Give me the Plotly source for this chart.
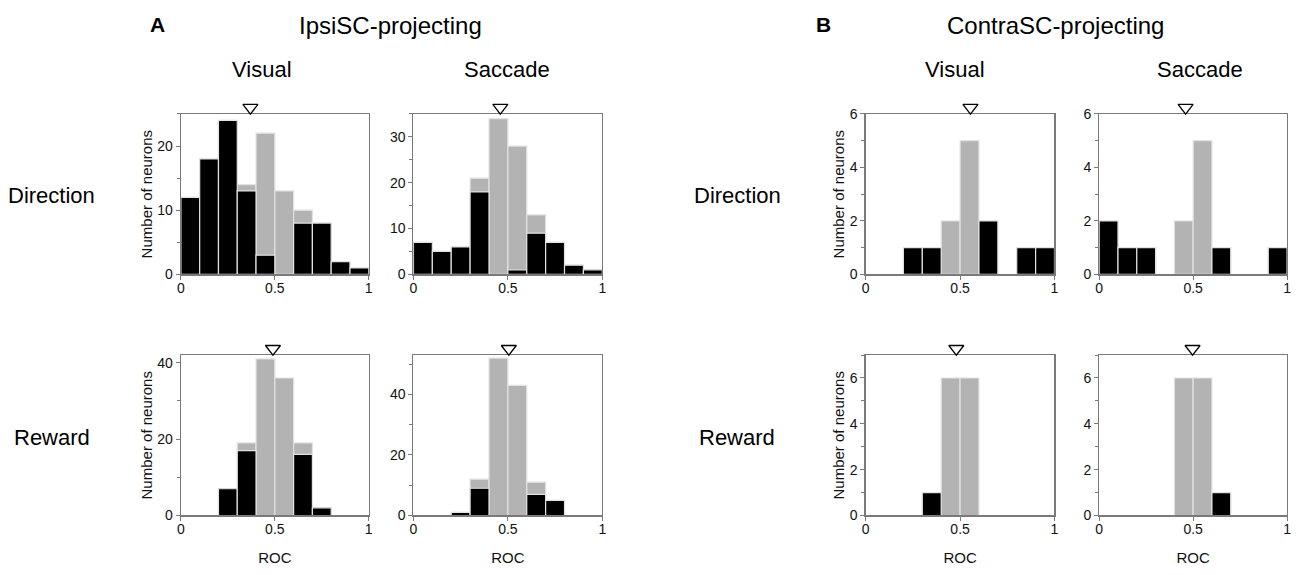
import plotly.graph_objects as go

# ---------------- data ----------------
bin_centers = [0.05, 0.15, 0.25, 0.35, 0.45, 0.55, 0.65, 0.75, 0.85, 0.95]

ipsi_vis_dir_total = [12, 18, 24, 14, 22, 13, 10, 8, 2, 1]
ipsi_vis_dir_sig = [12, 18, 24, 13, 3, 0, 8, 8, 2, 1]
ipsi_sac_dir_total = [7, 5, 6, 21, 34, 28, 13, 7, 2, 1]
ipsi_sac_dir_sig = [7, 5, 6, 18, 0, 1, 9, 7, 2, 1]
ipsi_vis_rew_total = [0, 0, 7, 19, 41, 36, 19, 2, 0, 0]
ipsi_vis_rew_sig = [0, 0, 7, 17, 0, 0, 16, 2, 0, 0]
ipsi_sac_rew_total = [0, 0, 1, 12, 52, 43, 11, 5, 0, 0]
ipsi_sac_rew_sig = [0, 0, 1, 9, 0, 0, 7, 5, 0, 0]

contra_vis_dir_total = [0, 0, 1, 1, 2, 5, 2, 0, 1, 1]
contra_vis_dir_sig = [0, 0, 1, 1, 0, 0, 2, 0, 1, 1]
contra_sac_dir_total = [2, 1, 1, 0, 2, 5, 1, 0, 0, 1]
contra_sac_dir_sig = [2, 1, 1, 0, 0, 0, 1, 0, 0, 1]
contra_vis_rew_total = [0, 0, 0, 1, 6, 6, 0, 0, 0, 0]
contra_vis_rew_sig = [0, 0, 0, 1, 0, 0, 0, 0, 0, 0]
contra_sac_rew_total = [0, 0, 0, 0, 6, 6, 1, 0, 0, 0]
contra_sac_rew_sig = [0, 0, 0, 0, 0, 0, 1, 0, 0, 0]

# mean ROC (triangles)
panel_means = [0.37, 0.46, 0.49, 0.505, 0.555, 0.46, 0.48, 0.497]
# y-axis maxima and major tick steps
y_max = [25, 35, 42, 53, 6, 6, 7, 7]
y_dtick = [10, 10, 20, 20, 2, 2, 2, 2]

x_tickvals = [0, 0.5, 1]
x_ticktext = ["0", "0.5", "1"]

# ---------------- layout helpers ----------------
W, H = 1300, 575

def px_x(p):
    return p / W

def px_y(p):
    return 1 - p / H

# panel boxes in pixels
row1 = (109, 274)
row2 = (357, 522)
colA1 = (178, 367)
colA2 = (412, 602)
colB1 = (867, 1057)
colB2 = (1102, 1291)

panels = [
    (ipsi_vis_dir_total, ipsi_vis_dir_sig, colA1, row1, True, False),
    (ipsi_sac_dir_total, ipsi_sac_dir_sig, colA2, row1, False, False),
    (ipsi_vis_rew_total, ipsi_vis_rew_sig, colA1, row2, True, True),
    (ipsi_sac_rew_total, ipsi_sac_rew_sig, colA2, row2, False, True),
    (contra_vis_dir_total, contra_vis_dir_sig, colB1, row1, True, False),
    (contra_sac_dir_total, contra_sac_dir_sig, colB2, row1, False, False),
    (contra_vis_rew_total, contra_vis_rew_sig, colB1, row2, True, True),
    (contra_sac_rew_total, contra_sac_rew_sig, colB2, row2, False, True),
]

FONT = "Liberation Sans, Arial, sans-serif"
FRAME = "#7a7a7a"
GRAY = "#b3b3b3"
EDGE = "#e2e2e2"
EXTRA = 16  # px of headroom on the marker axis

def nz(v):
    return [x if x != 0 else None for x in v]

fig = go.Figure()
layout_axes = {}

for i, (tot, sig, (xl, xr), (yt, yb), ytitle, xtitle) in enumerate(panels):
    k = i + 1
    km = k + 8
    xa = "x" if k == 1 else f"x{k}"
    ya = "y" if k == 1 else f"y{k}"
    yam = f"y{km}"
    xkey = "xaxis" if k == 1 else f"xaxis{k}"
    ykey = "yaxis" if k == 1 else f"yaxis{k}"
    ymkey = f"yaxis{km}"

    fig.add_trace(go.Bar(
        x=bin_centers, y=nz(tot), width=0.1,
        marker=dict(color=GRAY, line=dict(color=EDGE, width=1.2)),
        xaxis=xa, yaxis=ya, showlegend=False, hoverinfo="skip"))
    fig.add_trace(go.Bar(
        x=bin_centers, y=nz(sig), width=0.1,
        marker=dict(color="#000000", line=dict(color=EDGE, width=1.2)),
        xaxis=xa, yaxis=ya, showlegend=False, hoverinfo="skip"))

    h = yb - yt
    fig.add_trace(go.Scatter(
        x=[panel_means[i]], y=[y_max[i] * (1 + 6.5 / h)],
        mode="markers",
        marker=dict(symbol="triangle-down-open", size=13, color="black",
                    line=dict(color="black", width=1.3)),
        cliponaxis=False, xaxis=xa, yaxis=yam, showlegend=False, hoverinfo="skip"))

    layout_axes[xkey] = dict(
        domain=[px_x(xl), px_x(xr)], anchor=ya, range=[0, 1],
        tickvals=x_tickvals, ticktext=x_ticktext,
        showline=True, mirror=True, linecolor=FRAME, linewidth=1.2,
        ticks="outside", ticklen=4, tickcolor=FRAME, tickwidth=1,
        ticklabelstandoff=-3, ticklabeloverflow="allow",
        showgrid=False, zeroline=False, fixedrange=True,
        tickfont=dict(family=FONT, size=14, color="#111"),
        title=dict(text="ROC" if xtitle else "", standoff=16,
                   font=dict(family=FONT, size=15, color="#111")),
    )
    layout_axes[ykey] = dict(
        domain=[px_y(yb), px_y(yt)], anchor=xa, range=[0, y_max[i]],
        tick0=0, dtick=y_dtick[i],
        minor=dict(dtick=y_dtick[i] / 2, ticks="outside", ticklen=3,
                   tickcolor=FRAME, showgrid=False),
        showline=True, mirror=True, linecolor=FRAME, linewidth=1.2,
        ticks="outside", ticklen=4, tickcolor=FRAME, tickwidth=1,
        showgrid=False, zeroline=False, fixedrange=True,
        tickfont=dict(family=FONT, size=14, color="#111"),
        title=dict(text="Number of neurons" if ytitle else "", standoff=1,
                   font=dict(family=FONT, size=15, color="#111")),
    )
    # hidden axis with headroom, same data scale, used for the mean marker
    layout_axes[ymkey] = dict(
        domain=[px_y(yb), px_y(yt - EXTRA)], anchor=xa,
        range=[0, y_max[i] * (h + EXTRA) / h],
        visible=False, fixedrange=True, showgrid=False, zeroline=False,
    )

annotations = []

def add_text(text, x, y, size, bold=False):
    annotations.append(dict(
        text=f"<b>{text}</b>" if bold else text,
        x=px_x(x), y=px_y(y), xref="paper", yref="paper",
        xanchor="center", yanchor="middle", showarrow=False,
        font=dict(family=FONT, size=size, color="#000")))

add_text("A", 154, 17, 21, bold=True)
add_text("IpsiSC-projecting", 389, 18, 24)
add_text("B", 825, 17, 21, bold=True)
add_text("ContraSC-projecting", 1058, 18, 24)
add_text("Visual", 260, 63, 22)
add_text("Saccade", 506, 63, 22)
add_text("Visual", 957, 63, 22)
add_text("Saccade", 1203, 63, 22)
add_text("Direction", 48, 193, 22)
add_text("Reward", 48, 442, 22)
add_text("Direction", 738, 193, 22)
add_text("Reward", 738, 442, 22)

fig.update_layout(
    width=W, height=H,
    margin=dict(l=0, r=0, t=0, b=0),
    paper_bgcolor="white", plot_bgcolor="rgba(0,0,0,0)",
    barmode="overlay", bargap=0,
    showlegend=False,
    annotations=annotations,
    font=dict(family=FONT),
    **layout_axes,
)

fig.write_html(
    "out.html",
    config={"displayModeBar": False, "staticPlot": True},
    post_script="document.body.style.margin='0';document.body.style.padding='0';"
                "document.body.style.overflow='hidden';",
)
